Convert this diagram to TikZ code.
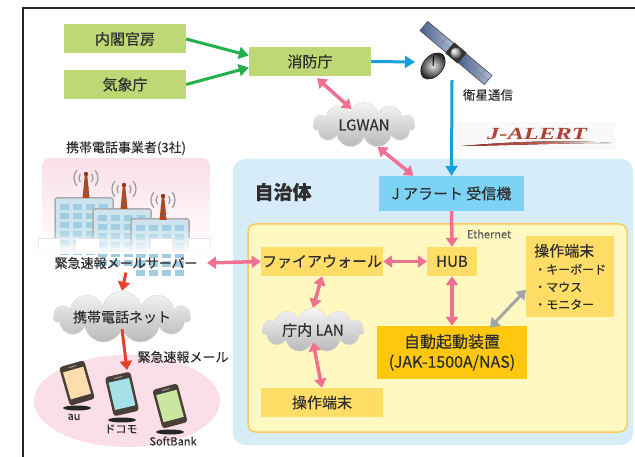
\documentclass[tikz,border=0pt]{standalone}
\usepackage{fontspec}
\usepackage{tikz}
\usetikzlibrary{arrows.meta,shapes.symbols,fadings}
\newfontfamily\jpfont[FakeBold=0.25]{Noto Sans CJK JP}
\newfontfamily\logofont{Liberation Serif}
\definecolor{BoxGreen}{RGB}{190,216,118}
\definecolor{ArrowGreen}{RGB}{35,176,75}
\definecolor{SatBlue}{RGB}{20,160,220}
\definecolor{LinkPink}{RGB}{240,112,145}
\definecolor{MailRed}{RGB}{232,64,40}
\definecolor{TownBlue}{RGB}{214,236,249}
\definecolor{OfficeYellow}{RGB}{255,248,192}
\definecolor{OfficeEdge}{RGB}{250,205,90}
\definecolor{DevYellow}{RGB}{255,221,102}
\definecolor{AutoYellow}{RGB}{255,200,15}
\definecolor{RecvBlue}{RGB}{125,211,245}
\definecolor{InkGray}{RGB}{45,45,45}
\definecolor{PhonePink}{RGB}{250,222,232}
\definecolor{PhoneBody}{RGB}{72,64,56}
\definecolor{ScreenAu}{RGB}{253,220,174}
\definecolor{ScreenDocomo}{RGB}{166,224,232}
\definecolor{ScreenSB}{RGB}{203,230,160}
\definecolor{BldBlue}{RGB}{205,228,238}
\definecolor{WinBlue}{RGB}{160,205,226}
\definecolor{TowerRed}{RGB}{180,70,30}
\definecolor{PanelDark}{RGB}{70,95,145}
\definecolor{PanelLight}{RGB}{175,190,215}
\definecolor{LogoRed}{RGB}{165,45,30}

\begin{document}
\begin{tikzpicture}[x=1pt, y=-1pt,
 font=\jpfont\fontsize{15}{18}\selectfont, text=InkGray,
 greenbox/.style={fill=BoxGreen, minimum width=122pt, minimum height=29pt, inner sep=0pt},
 devbox/.style={fill=DevYellow, minimum width=122pt, minimum height=29pt, inner sep=0pt},
 net/.style={cloud, cloud puffs=11, cloud ignores aspect, draw=gray!30, top color=gray!8, bottom color=gray!55, inner sep=0pt},
 captxt/.style={font=\jpfont\fontsize{13}{16}\selectfont},
 tinytxt/.style={font=\jpfont\fontsize{11}{13}\selectfont},
 garrow/.style={draw=ArrowGreen, line width=3pt, -{Triangle[length=10pt,width=12pt]}},
 barrow/.style={draw=SatBlue, line width=3pt, -{Triangle[length=10pt,width=12pt]}},
 parrow/.style={draw=LinkPink, line width=3.5pt, {Triangle[length=9pt,width=12pt]}-{Triangle[length=9pt,width=12pt]}},
 ponearrow/.style={draw=LinkPink, line width=3.5pt, -{Triangle[length=9pt,width=12pt]}},
 rarrow/.style={draw=MailRed, line width=3pt, -{Triangle[length=9pt,width=12pt]}},
 grarrow/.style={draw=gray!70, line width=3pt, {Triangle[length=9pt,width=12pt]}-{Triangle[length=9pt,width=12pt]}}
]
\useasboundingbox (0,0) rectangle (635,457);

% frame
\draw[line width=1.5pt, black!85] (23,457) -- (23,8) -- (635,8);

% municipality and office areas
\fill[TownBlue, rounded corners=12pt] (233,159) rectangle (633,445);
\filldraw[fill=OfficeYellow, draw=OfficeEdge, line width=1.5pt, rounded corners=8pt] (248,224) rectangle (627,432);

% carrier buildings
\shade[top color=PhonePink, bottom color=white, rounded corners=8pt] (42,158) rectangle (210,252);
\foreach \bx/\by in {55/198, 93/209, 131/219} {
  \filldraw[fill=BldBlue, draw=gray!65, line width=1.5pt, rounded corners=2pt] (\bx,\by) rectangle (\bx+58,251);
  \foreach \wx in {5,18,31,44}
    \foreach \wy in {6,15,...,51}
      \fill[WinBlue] (\bx+\wx,\by+\wy) rectangle (\bx+\wx+9,\by+\wy+6);
}
\foreach \lx/\lw in {38/22, 75/24, 150/22, 188/22}
  \filldraw[fill=white, draw=gray!35] (\lx,238) rectangle (\lx+\lw,251);
\fill[white, path fading=north] (34,228) rectangle (214,254);
\foreach \ax/\ay in {86/173, 124/184, 163/195} {
  \fill[TowerRed] (\ax-1,\ay) -- (\ax+1,\ay) -- (\ax+3.5,\ay+25) -- (\ax-3.5,\ay+25) -- cycle;
  \draw[black!60, line width=0.4pt] (\ax-2,\ay+8) -- (\ax+2,\ay+8) (\ax-2.5,\ay+14) -- (\ax+2.5,\ay+14) (\ax-3,\ay+20) -- (\ax+3,\ay+20);
  \fill[TowerRed!80!black] (\ax,\ay+1) circle (2.2pt);
  \draw[gray!75, line width=1.3pt] (\ax,\ay+5) ++(35:7pt) arc[start angle=35, end angle=-35, radius=7pt]
                                 (\ax,\ay+5) ++(40:12pt) arc[start angle=40, end angle=-40, radius=12pt]
                                 (\ax,\ay+5) ++(145:7pt) arc[start angle=145, end angle=215, radius=7pt]
                                 (\ax,\ay+5) ++(140:12pt) arc[start angle=140, end angle=220, radius=12pt];
}

% handsets
\fill[PhonePink] (127,401) ellipse [x radius=93pt, y radius=46pt];
\foreach \px/\py/\ang/\scr/\sy in {77/383/16/ScreenAu/408, 122/394/13/ScreenDocomo/420, 170/406/15/ScreenSB/432} {
  \fill[black!85] (\px,\sy) ellipse [x radius=14pt, y radius=2.5pt];
  \begin{scope}[shift={(\px,\py)}, rotate=\ang]
    \fill[PhoneBody, rounded corners=3pt] (-13,-20) rectangle (13,20);
    \fill[\scr] (-10.5,-14) rectangle (10.5,14);
    \draw[gray!80, line width=1pt] (-4,-17) -- (4,-17);
  \end{scope}
}

% satellite
\begin{scope}[shift={(456,53)}, rotate=-40]
  \foreach \s in {-1,1} {
    \shade[left color=PanelDark, right color=PanelLight, draw=black!70, line width=0.6pt] (\s*8,-6) rectangle (\s*42,6);
    \draw[black!50, line width=0.4pt] (\s*8,0) -- (\s*42,0) (\s*17,-6) -- (\s*17,6) (\s*25,-6) -- (\s*25,6) (\s*33,-6) -- (\s*33,6);
  }
  \fill[black!80] (-8,-7) rectangle (8,7);
  \shade[ball color=gray!50] (0,0) circle (5.5pt);
\end{scope}
\begin{scope}[shift={(433,66)}, rotate=50]
  \shade[inner color=gray!20, outer color=black!85, draw=black] (0,0) ellipse [x radius=15pt, y radius=10pt];
  \draw[black, line width=1pt] (0,0) -- (8,-6);
\end{scope}
\coordinate (satin) at (415,62);
\coordinate (satout) at (452,80);

% J-ALERT logo
\fill[gray!5] (455,122) rectangle (615,150);
\fill[left color=LogoRed, right color=white, middle color=LogoRed!80] (462,146) .. controls (520,141) and (570,140) .. (612,143) .. controls (570,143) and (520,145) .. (462,146) -- cycle;
\node[font=\logofont\bfseries\itshape\fontsize{17}{17}\selectfont, text=LogoRed!90, xscale=1.45, transform shape] (logo) at (537,134) {J-ALERT};

% nodes
\node[greenbox] (naikaku) at (125,39)   {内閣官房};
\node[greenbox] (kishou)  at (125,84.5) {気象庁};
\node[greenbox] (shoubou) at (310,61.5) {消防庁};
\node[net, minimum width=102pt, minimum height=45pt] (lgwan) at (364,125) {LGWAN};
\node[tinytxt, font=\jpfont\fontsize{12.5}{15}\selectfont] (eisei) at (488,95) {衛星通信};

\node[font=\jpfont\bfseries\fontsize{19}{22}\selectfont] (jichitai) at (283,192) {自治体};
\node[fill=RecvBlue, minimum width=145pt, minimum height=35pt, inner sep=0pt] (jrecv) at (451.5,193.5) {J アラート 受信機};
\node[tinytxt, text=gray!75!black] (ether) at (489,234) {Ethernet};
\node[devbox] (fw)  at (322,261.5) {ファイアウォール};
\node[devbox, minimum width=50pt] (hub) at (452,261.5) {HUB};
\node[fill=DevYellow, anchor=north west, minimum width=88pt, minimum height=81pt, inner xsep=7pt, inner ysep=6pt, align=left, font=\jpfont\fontsize{12}{17.5}\selectfont] (termlist) at (526,236)
  {{\fontsize{15}{18}\selectfont 操作端末}\\[0pt] ・キーボード\\ ・マウス\\ ・モニター};
\node[net, minimum width=102pt, minimum height=44pt] (lan) at (313,330) {庁内 LAN};
\node[fill=AutoYellow, minimum width=150pt, minimum height=53pt, inner sep=0pt, align=center, font=\jpfont\fontsize{16}{20}\selectfont] (auto) at (452,352.5)
  {自動起動装置\\(JAK-1500A/NAS)};
\node[devbox] (term) at (322,402.5) {操作端末};

\node[captxt] (carrier) at (126,148) {携帯電話事業者(3社)};
\node[captxt] (server)  at (126,263) {緊急速報メールサーバー};
\node[net, minimum width=127pt, minimum height=52pt, font=\jpfont\fontsize{14}{17}\selectfont] (mnet) at (122,317) {携帯電話ネット};
\coordinate (handsets) at (127,370);
\node[captxt] (mail) at (183,357) {緊急速報メール};
\node[tinytxt] (au)   at (74,417)  {au};
\node[tinytxt] (docomo) at (121,429) {ドコモ};
\node[tinytxt] (sb)   at (173,441) {SoftBank};

% connectors
\draw[garrow] (naikaku.east) -- ([yshift=6pt]shoubou.west);
\draw[garrow] (kishou.east) -- ([yshift=-6pt]shoubou.west);
\draw[barrow] (shoubou.east) -- (satin);
\draw[barrow] (satout) -- (jrecv.north);
\draw[parrow] ([shift={(7pt,-2pt)}]shoubou.south) -- (lgwan.128);
\draw[parrow] (lgwan.-58) -- ([xshift=-38pt]jrecv.north);
\draw[ponearrow] (jrecv.south) -- (hub.north);
\draw[parrow] (fw.east) -- (hub.west);
\draw[parrow] ([xshift=6pt]server.east) -- (fw.west);
\draw[parrow] (fw.south) -- (lan.north);
\draw[parrow] (lan.south) -- (term.north);
\draw[parrow] (hub.south) -- (auto.north);
\draw[grarrow] ([shift={(38pt,-2pt)}]auto.north) -- ([yshift=-13pt]termlist.west);
\draw[rarrow] (server.south) -- (mnet.north);
\draw[rarrow] (mnet.south) -- (handsets);
\end{tikzpicture}
\end{document}
